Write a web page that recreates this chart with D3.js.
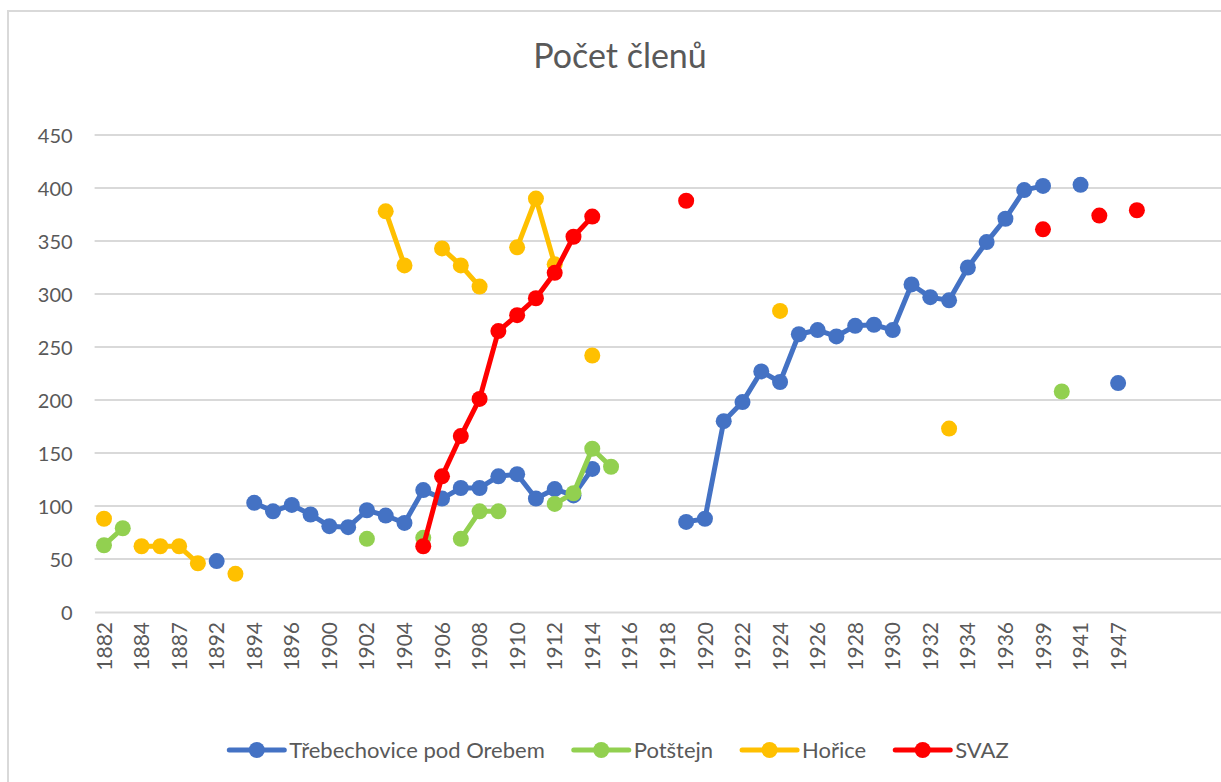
<!DOCTYPE html>
<html>
<head>
<meta charset="utf-8">
<script src="https://cdn.jsdelivr.net/npm/d3@7/dist/d3.min.js"></script>
<style>
  html, body { margin: 0; padding: 0; background: #fff; }
  svg { display: block; }
  text { font-family: Lato, "Open Sans", "Noto Sans", sans-serif; fill: #595959; }
</style>
</head>
<body>
<svg id="chart" width="1221" height="782"></svg>
<script>
// ---- data ----
const categories = ["1882","1883","1884","1885","1887","1890","1892","1893","1894","1895",
  "1896","1898","1900","1901","1902","1903","1904","1905","1906","1907",
  "1908","1909","1910","1911","1912","1913","1914","1915","1916","1917",
  "1918","1919","1920","1921","1922","1923","1924","1925","1926","1927",
  "1928","1929","1930","1931","1932","1933","1934","1935","1936","1938",
  "1939","1940","1941","1945","1947","1948","","","",""];

const N = null;
const trebechovice = [N,N,N,N,N,N,48,N,103,95,
  101,92,81,80,96,91,84,115,107,117,
  117,128,130,107,116,110,135,N,N,N,
  N,85,88,180,198,227,217,262,266,260,
  270,271,266,309,297,294,325,349,371,398,
  402,N,403,N,216,N,N,N,N,N];
const potstejn = [63,79,N,N,N,N,N,N,N,N,
  N,N,N,N,69,N,N,70,N,69,
  95,95,N,N,102,112,154,137,N,N,
  N,N,N,N,N,N,N,N,N,N,
  N,N,N,N,N,N,N,N,N,N,
  N,208,N,N,N,N,N,N,N,N];
const horice = [88,N,62,62,62,46,N,36,N,N,
  N,N,N,N,N,378,327,N,343,327,
  307,N,344,390,328,N,242,N,N,N,
  N,N,N,N,N,N,284,N,N,N,
  N,N,N,N,N,173,N,N,N,N,
  N,N,N,N,N,N,N,N,N,N];
const svaz = [N,N,N,N,N,N,N,N,N,N,
  N,N,N,N,N,N,N,62,128,166,
  201,265,280,296,320,354,373,N,N,N,
  N,388,N,N,N,N,N,N,N,N,
  N,N,N,N,N,N,N,N,N,N,
  361,N,N,374,N,379,N,N,N,N];

const seriesNames = ["Třebechovice pod Orebem","Potštejn","Hořice","SVAZ"];
const seriesColors = ["#4472C4","#92D050","#FFC000","#FF0000"];
const seriesValues = [trebechovice, potstejn, horice, svaz];
const yTicks = [0,50,100,150,200,250,300,350,400,450];
const title = "Počet členů";

// ---- layout ----
const svg = d3.select("#chart");
const plot = {left: 94.6, right: 1221.4, top: 135, bottom: 612};

// chart border
svg.append("rect").attr("x", 8).attr("y", 11).attr("width", 1260).attr("height", 800)
  .attr("fill", "#fff").attr("stroke", "#D9D9D9").attr("stroke-width", 2);

const x = d3.scaleBand().domain(d3.range(categories.length))
  .range([plot.left, plot.right]).padding(0);
const y = d3.scaleLinear().domain([0, 450]).range([plot.bottom, plot.top]);
const cx = i => x(i) + x.bandwidth() / 2;

// title
svg.append("text").attr("x", 620).attr("y", 68).attr("text-anchor", "middle")
  .style("font-size", "34px").text(title);

// gridlines
svg.append("g").selectAll("line").data(yTicks.filter(t => t > 0)).join("line")
  .attr("x1", plot.left).attr("x2", plot.right)
  .attr("y1", d => y(d)).attr("y2", d => y(d))
  .attr("stroke", "#D9D9D9").attr("stroke-width", 2);

// y axis (labels only)
const yAxis = svg.append("g").attr("transform", `translate(${plot.left - 22},0)`)
  .call(d3.axisLeft(y).tickValues(yTicks).tickSize(0).tickPadding(0));
yAxis.select(".domain").remove();
yAxis.selectAll("text").style("font-size", "20px").attr("fill", "#595959").attr("dy", "0.36em");

// x axis
const xAxis = svg.append("g").attr("transform", `translate(0,${plot.bottom})`)
  .call(d3.axisBottom(x)
    .tickValues(d3.range(0, categories.length, 2).filter(i => categories[i] !== ""))
    .tickFormat(i => categories[i]).tickSize(0));
xAxis.select(".domain").attr("stroke", "#D9D9D9").attr("stroke-width", 2);
xAxis.selectAll("text")
  .style("font-size", "21px").attr("fill", "#595959")
  .attr("transform", "rotate(-90)")
  .attr("text-anchor", "end")
  .attr("x", -10).attr("y", 0).attr("dy", "0.36em");

// series
const line = d3.line().defined(d => d.v != null).x(d => cx(d.i)).y(d => y(d.v));
seriesValues.forEach((vals, s) => {
  const pts = vals.map((v, i) => ({i, v}));
  const g = svg.append("g");
  g.append("path").datum(pts).attr("d", line)
    .attr("fill", "none").attr("stroke", seriesColors[s])
    .attr("stroke-width", 5).attr("stroke-linejoin", "round").attr("stroke-linecap", "round");
  g.selectAll("circle").data(pts.filter(d => d.v != null)).join("circle")
    .attr("cx", d => cx(d.i)).attr("cy", d => y(d.v)).attr("r", 8)
    .attr("fill", seriesColors[s]);
});

// legend
const legend = svg.append("g");
const items = seriesNames.map((name, s) => {
  const g = legend.append("g");
  g.append("line").attr("x1", 0).attr("x2", 55).attr("y1", 0).attr("y2", 0)
    .attr("stroke", seriesColors[s]).attr("stroke-width", 5).attr("stroke-linecap", "round");
  g.append("circle").attr("cx", 27.5).attr("cy", 0).attr("r", 8).attr("fill", seriesColors[s]);
  const t = g.append("text").attr("x", 60).attr("y", 0).attr("dy", "0.36em")
    .style("font-size", "22px").text(name);
  return {g, w: 60 + t.node().getComputedTextLength()};
});
const gap = 29;
const total = d3.sum(items, d => d.w) + gap * (items.length - 1);
let pos = 619 - total / 2;
items.forEach(it => {
  it.g.attr("transform", `translate(${pos},750)`);
  pos += it.w + gap;
});
</script>
</body>
</html>
